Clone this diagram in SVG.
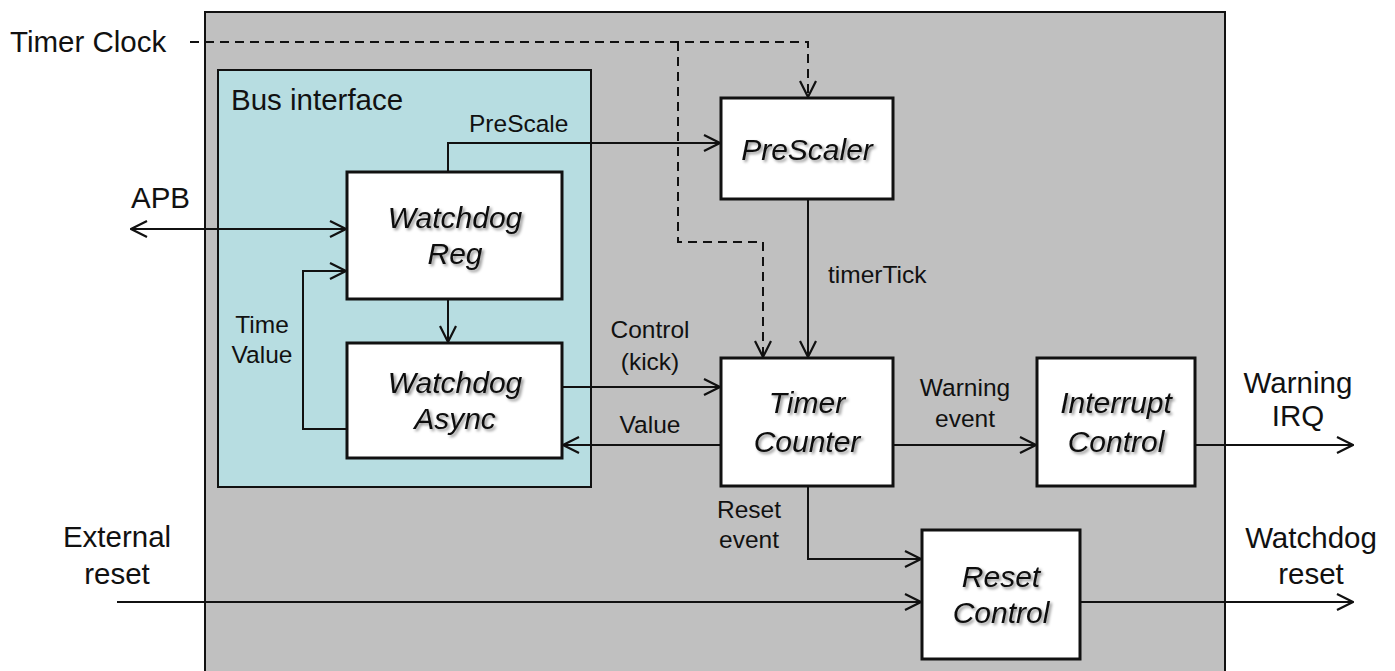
<svg xmlns="http://www.w3.org/2000/svg" width="1395" height="671" viewBox="0 0 1395 671">
  <style>
    .lbl { font-family: "Liberation Sans", Arial, sans-serif; fill: #111; }
    .ext { font-size: 29.5px; }
    .sig { font-size: 24.5px; }
    .title { font-family: "Liberation Sans", Arial, sans-serif; font-size: 30px; font-style: italic; fill: #111; text-anchor: middle; filter: url(#shadow); }
    .box { fill: #ffffff; stroke: #111; stroke-width: 3; }
    .wire { fill: none; stroke: #111; stroke-width: 2; }
    .dash { fill: none; stroke: #111; stroke-width: 2; stroke-dasharray: 9 6; }
    .mid { text-anchor: middle; }
  </style>
  <defs>
    <marker id="arrow" viewBox="0 0 18 18" markerWidth="18" markerHeight="18" refX="17" refY="9" orient="auto-start-reverse" markerUnits="userSpaceOnUse">
      <path d="M1,1 L17,9 L1,17" fill="none" stroke="#111" stroke-width="2.2"/>
    </marker>
    <filter id="shadow" x="-20%" y="-30%" width="140%" height="160%">
      <feDropShadow dx="2" dy="2" stdDeviation="1.4" flood-color="#000" flood-opacity="0.45"/>
    </filter>
  </defs>

  <rect width="1395" height="671" fill="#ffffff"/>

  <!-- watchdog block outline -->
  <g id="watchdog-block">
    <rect x="205" y="12" width="1020" height="670" fill="#c0c0c0" stroke="#111" stroke-width="2"/>
  </g>

  <!-- bus interface container -->
  <g id="bus-interface">
    <rect x="218" y="70" width="373" height="417" fill="#b7dde1" stroke="#111" stroke-width="2"/>
    <text class="lbl ext" x="231" y="110">Bus interface</text>
  </g>

  <!-- connectors -->
  <g id="connectors">
    <!-- timer clock -->
    <path class="dash" d="M190,42 H808 V97" marker-end="url(#arrow)"/>
    <path class="dash" d="M678,42 V242 H763 V357" marker-end="url(#arrow)"/>
    <!-- prescale value -->
    <path class="wire" d="M448,172 V143 H720" marker-end="url(#arrow)"/>
    <!-- APB -->
    <path class="wire" d="M131,229 H346" marker-start="url(#arrow)" marker-end="url(#arrow)"/>
    <!-- time value feedback -->
    <path class="wire" d="M347,429 H303 V271 H346" marker-end="url(#arrow)"/>
    <!-- reg to async -->
    <path class="wire" d="M448,299 V342" marker-end="url(#arrow)"/>
    <!-- control (kick) -->
    <path class="wire" d="M562,387 H720" marker-end="url(#arrow)"/>
    <!-- value -->
    <path class="wire" d="M721,445 H563" marker-end="url(#arrow)"/>
    <!-- timer tick -->
    <path class="wire" d="M808,199 V357" marker-end="url(#arrow)"/>
    <!-- warning event -->
    <path class="wire" d="M893,445 H1036" marker-end="url(#arrow)"/>
    <!-- warning IRQ -->
    <path class="wire" d="M1195,445 H1353" marker-end="url(#arrow)"/>
    <!-- reset event -->
    <path class="wire" d="M808,486 V559 H921" marker-end="url(#arrow)"/>
    <!-- external reset -->
    <path class="wire" d="M117,602 H921" marker-end="url(#arrow)"/>
    <!-- watchdog reset -->
    <path class="wire" d="M1080,602 H1353" marker-end="url(#arrow)"/>

    <text class="lbl ext" x="10" y="52">Timer Clock</text>
    <text class="lbl ext" x="131" y="208">APB</text>
    <text class="lbl sig" x="469" y="132">PreScale</text>
    <text class="lbl sig mid" x="262" y="333">Time</text>
    <text class="lbl sig mid" x="262" y="363">Value</text>
    <text class="lbl sig mid" x="650" y="338">Control</text>
    <text class="lbl sig mid" x="650" y="370">(kick)</text>
    <text class="lbl sig mid" x="650" y="433">Value</text>
    <text class="lbl sig" x="828" y="283">timerTick</text>
    <text class="lbl sig mid" x="965" y="396">Warning</text>
    <text class="lbl sig mid" x="965" y="427">event</text>
    <text class="lbl ext mid" x="1298" y="393">Warning</text>
    <text class="lbl ext mid" x="1298" y="426">IRQ</text>
    <text class="lbl sig mid" x="749" y="518">Reset</text>
    <text class="lbl sig mid" x="749" y="548">event</text>
    <text class="lbl ext mid" x="117" y="547">External</text>
    <text class="lbl ext mid" x="117" y="584">reset</text>
    <text class="lbl ext mid" x="1311" y="548">Watchdog</text>
    <text class="lbl ext mid" x="1311" y="584">reset</text>
  </g>

  <g id="watchdog-reg">
    <rect class="box" x="347" y="172" width="215" height="127"/>
    <text class="title" x="455" y="228">Watchdog</text>
    <text class="title" x="455" y="264">Reg</text>
  </g>

  <g id="watchdog-async">
    <rect class="box" x="347" y="343" width="215" height="115"/>
    <text class="title" x="455" y="393">Watchdog</text>
    <text class="title" x="455" y="429">Async</text>
  </g>

  <g id="prescaler">
    <rect class="box" x="721" y="98" width="172" height="101"/>
    <text class="title" x="807" y="160">PreScaler</text>
  </g>

  <g id="timer-counter">
    <rect class="box" x="721" y="358" width="172" height="128"/>
    <text class="title" x="807" y="413">Timer</text>
    <text class="title" x="807" y="452">Counter</text>
  </g>

  <g id="interrupt-control">
    <rect class="box" x="1037" y="358" width="158" height="128"/>
    <text class="title" x="1116" y="413">Interrupt</text>
    <text class="title" x="1116" y="452">Control</text>
  </g>

  <g id="reset-control">
    <rect class="box" x="922" y="530" width="158" height="129"/>
    <text class="title" x="1001" y="587">Reset</text>
    <text class="title" x="1001" y="623">Control</text>
  </g>
</svg>
